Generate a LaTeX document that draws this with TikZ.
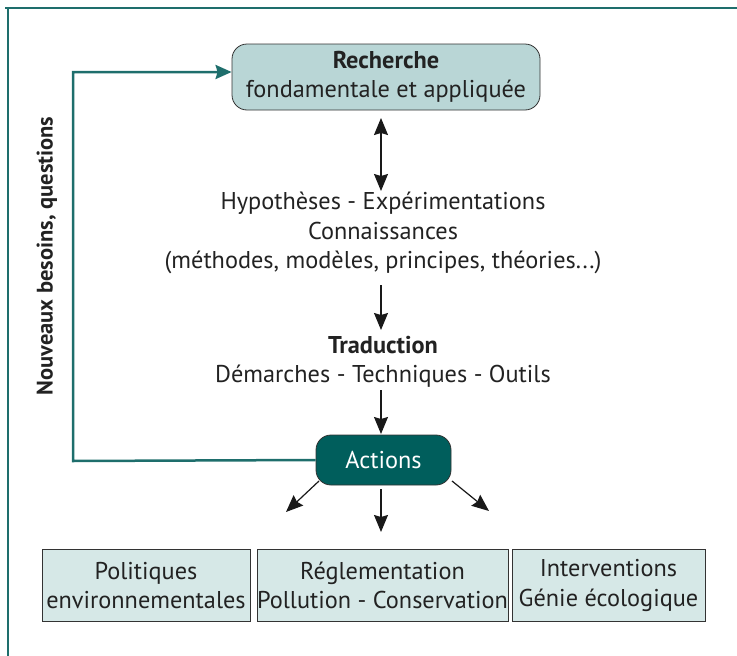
\documentclass[tikz,border=0pt]{standalone}
\usepackage{fontspec}
\setmainfont{PT Sans}
\usetikzlibrary{arrows.meta,positioning}
\definecolor{tealline}{HTML}{1E6E6C}
\definecolor{tealdark}{HTML}{005E5C}
\definecolor{tealmid}{HTML}{B9D6D6}
\definecolor{teallight}{HTML}{D6E8E7}
\definecolor{txt}{HTML}{222222}
\tikzset{
  boxA/.style={draw=black!80, line width=0.8pt, rounded corners=15pt, fill=tealmid, minimum width=308pt, minimum height=66pt, align=center, text=txt, inner sep=0pt},
  boxAct/.style={draw=black!80, line width=0.8pt, rounded corners=15pt, fill=tealdark, minimum width=135pt, minimum height=50pt, text=white, inner sep=0pt},
  boxB/.style={draw=black!80, line width=0.8pt, fill=teallight, minimum height=72pt, align=center, text=txt, inner sep=0pt},
  txtnode/.style={align=center, text=txt, inner sep=0pt},
  tipA/.tip={Stealth[length=17pt,width=14pt,inset=2pt]},
  arr/.style={-tipA, line width=1.2pt, black!90},
  darr/.style={tipA-tipA, line width=1.2pt, black!90},
  feed/.style={-{Stealth[length=16pt,width=14pt,inset=2pt]}, line width=2.5pt, tealline},
}
\begin{document}
\begin{tikzpicture}[x=1pt,y=-1pt, font=\fontsize{24.3}{29.5}\selectfont]
\useasboundingbox (0,0) rectangle (737,656);
% frame
\draw[tealline, line width=1.5pt] (5,8) -- (737,8);
\draw[tealline, line width=1.5pt] (8,8) -- (8,656);
% nodes
\node[boxA] (rech) at (386,77) {\textbf{Recherche}\\fondamentale et appliquée};
\node[txtnode] (hyp) at (383,233) {Hypothèses - Expérimentations\\Connaissances\\(méthodes, modèles, principes, théories...)};
\node[txtnode] (trad) at (383,362) {\textbf{Traduction}\\Démarches - Techniques - Outils};
\node[boxAct] (act) at (383.5,460) {Actions};
\node[boxB, minimum width=208pt] (pol) at (146,585.5) {Politiques\\environnementales};
\node[boxB, minimum width=251pt] (reg) at (382.5,585.5) {Réglementation\\Pollution - Conservation};
\node[boxB, minimum width=193pt] (int) at (608.5,585.5) {Interventions\\Génie écologique};
\node[rotate=90, font=\fontsize{22.5}{27}\selectfont\bfseries, text=txt] (nb) at (47,256) {Nouveaux besoins, questions};
% coordinates for arrows
\coordinate (a1) at (381,118);
\coordinate (a2) at (381,191);
\coordinate (b1) at (381,285);
\coordinate (b2) at (381,330);
\coordinate (c1) at (381,390);
\coordinate (c2) at (381,434);
\coordinate (d1) at (319,481);
\coordinate (d2) at (286,512);
\coordinate (e1) at (381,489);
\coordinate (e2) at (381,532);
\coordinate (f1) at (452,481);
\coordinate (f2) at (489,511);
\coordinate (k1) at (73,461);
\coordinate (k2) at (73,72);
\draw[darr] (a1) -- (a2);
\draw[arr] (b1) -- (b2);
\draw[arr] (c1) -- (c2);
\draw[arr] (d1) -- (d2);
\draw[arr] (e1) -- (e2);
\draw[arr] (f1) -- (f2);
\draw[feed] (act.west) -- (k1) -- (k2) -- (k2 -| rech.west);
\end{tikzpicture}
\end{document}
